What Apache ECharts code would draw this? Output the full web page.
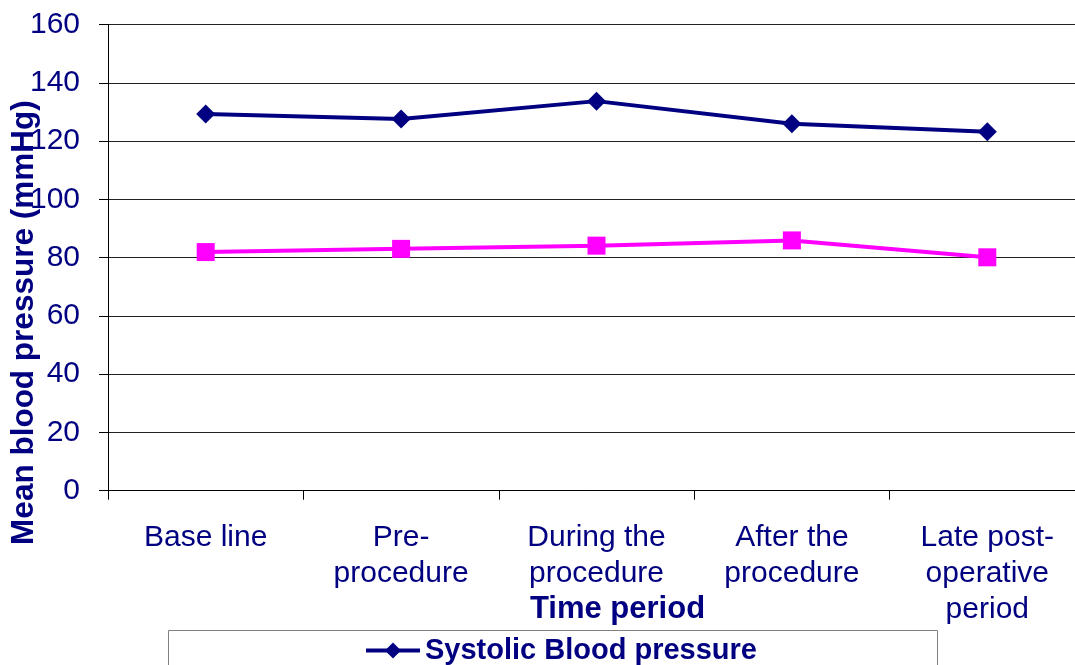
<!DOCTYPE html>
<html>
<head>
<meta charset="utf-8">
<script src="https://cdn.jsdelivr.net/npm/echarts@6/dist/echarts.min.js"></script>
<style>
html,body{margin:0;padding:0;background:#fff;}
#chart{width:1075px;height:665px;}
</style>
</head>
<body>
<div id="chart"></div>
<script>
const categories = ["Base line", "Pre-\nprocedure", "During the\nprocedure", "After the\nprocedure", "Late post-\noperative\nperiod"];
const systolic = [129.3, 127.6, 133.7, 125.9, 123.2];
const diastolic = [81.9, 83.0, 84.1, 85.9, 80.1];
const seriesNames = ["Systolic Blood pressure", "Diastolic Blood pressure"];
const yTicks = { min: 0, max: 160, interval: 20 };
const xTitle = "Time period";
const yTitle = "Mean blood pressure (mmHg)";

const FONT = "'Liberation Sans', Arial, sans-serif";
const NAVY = "#000080";
const chart = echarts.init(document.getElementById('chart'), null, { renderer: 'canvas' });
chart.setOption({
  backgroundColor: '#fff',
  animation: false,
  grid: { left: 108, right: -10, top: 24.5, bottom: 174.3, containLabel: false, outerBoundsMode: 'none' },
  xAxis: {
    type: 'category',
    data: categories,
    boundaryGap: true,
    name: xTitle,
    nameLocation: 'middle',
    nameGap: 103,
    nameMoveOverlap: false,
    nameTextStyle: { color: NAVY, fontFamily: FONT, fontSize: 31, fontWeight: 'bold', padding: [0, 0, 0, 42] },
    axisLine: { lineStyle: { color: '#000', width: 1 } },
    axisTick: { show: true, alignWithLabel: false, length: 9, lineStyle: { color: '#000' } },
    axisLabel: { color: NAVY, fontFamily: FONT, fontSize: 30, lineHeight: 36, margin: 29, interval: 0, align: 'center' },
    splitLine: { show: false }
  },
  yAxis: {
    type: 'value',
    min: yTicks.min, max: yTicks.max, interval: yTicks.interval,
    name: yTitle,
    nameLocation: 'middle',
    nameGap: 68,
    nameMoveOverlap: false,
    nameTextStyle: { color: NAVY, fontFamily: FONT, fontSize: 31.5, fontWeight: 'bold', padding: [0, 130, 0, 0] },
    axisLine: { show: true, lineStyle: { color: '#000', width: 1 } },
    axisTick: { show: true, length: 9, lineStyle: { color: '#000' } },
    axisLabel: { color: NAVY, fontFamily: FONT, fontSize: 30, margin: 28 },
    splitLine: { show: true, lineStyle: { color: '#222', width: 1 } }
  },
  legend: {
    orient: 'vertical',
    left: 359,
    top: 631,
    height: 200,
    itemWidth: 54,
    itemHeight: 20,
    itemGap: 10,
    lineStyle: { width: 4 },
    textStyle: { color: NAVY, fontFamily: FONT, fontSize: 29, fontWeight: 'bold' },
    data: seriesNames
  },
  graphic: [{
    type: 'rect',
    shape: { x: 168.5, y: 630.5, width: 769, height: 80 },
    style: { fill: 'none', stroke: '#808080', lineWidth: 1 },
    z: -1
  }],
  series: [
    {
      name: seriesNames[0], type: 'line', data: systolic,
      symbol: 'diamond', symbolSize: 19,
      lineStyle: { color: NAVY, width: 4 },
      itemStyle: { color: NAVY },
      z: 3
    },
    {
      name: seriesNames[1], type: 'line', data: diastolic,
      symbol: 'rect', symbolSize: 18,
      lineStyle: { color: '#FF00FF', width: 4 },
      itemStyle: { color: '#FF00FF' },
      z: 2
    }
  ]
});
</script>
</body>
</html>
